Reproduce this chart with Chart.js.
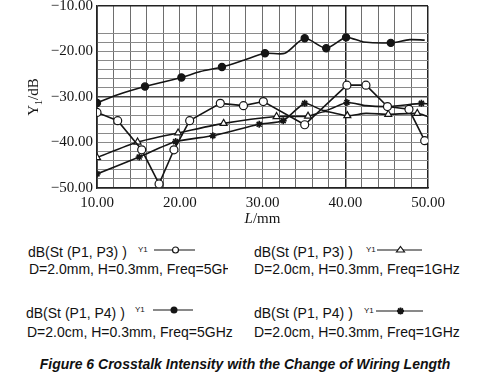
<!DOCTYPE html>
<html>
<head>
<meta charset="utf-8">
<script src="https://cdn.jsdelivr.net/npm/chart.js@4"></script>
<style>
  body { margin: 0; width: 482px; height: 374px; background: #fff; position: relative; overflow: hidden;
         font-family: "Liberation Sans", Arial, sans-serif; color: #111; }
  #wrap { position: absolute; left: 0; top: 0; width: 482px; height: 232px; }
  .lg { position: absolute; font-size: 14px; line-height: 16px; white-space: nowrap; overflow: hidden; }
  .y1 { position: absolute; font-size: 8px; line-height: 10px; }
  svg.sym { position: absolute; overflow: visible; }
  .cap { position: absolute; left: 0; width: 490px; top: 356px; text-align: center;
         font-weight: bold; font-style: italic; font-size: 14px; line-height: 16px; }
</style>
</head>
<body>
<div id="wrap"><canvas id="chart" width="482" height="232"></canvas></div>
<div id="legend"></div>
<div class="cap">Figure 6 Crosstalk Intensity with the Change of Wiring Length</div>
<script>
// L / mm  vs  Y1 / dB
// dB(St(P1,P3)) D=2.0mm, 5GHz  (open circle)
const openX = [10, 12.5, 15.4, 17.5, 19.3, 21.2, 24.9, 27.7, 30.1, 35.1, 40.2, 42.5, 45.1, 47.7, 49.6, 50];
const openY = [-33.4, -35.2, -41.6, -49.1, -41.6, -35.2, -31.4, -31.9, -31.0, -36.1, -27.4, -27.4, -32.1, -32.7, -39.6, -40.5];
const openMark = [1, 1, 1, 1, 1, 1, 1, 1, 1, 1, 1, 1, 1, 1, 1, 0];

// dB(St(P1,P4)) D=2.0cm, 5GHz  (filled circle)
const fillX = [10, 12.5, 15.8, 20.2, 22.5, 25.1, 27.6, 30.3, 32.7, 35.1, 37.7, 40.1, 42.2, 45.5, 47.8, 49.6];
const fillY = [-31.3, -29.5, -27.7, -25.7, -24.4, -23.4, -22.0, -20.4, -20.4, -17.1, -19.3, -16.9, -17.9, -18.1, -17.4, -17.5];
const fillMark = [1, 0, 1, 1, 0, 1, 0, 1, 0, 1, 1, 1, 0, 1, 0, 0];

// dB(St(P1,P3)) D=2.0cm, 1GHz  (triangle)
const triX = [10, 14.9, 19.8, 25.3, 31.7, 35.5, 37.6, 40.25, 42.5, 45.2, 48.7, 50];
const triY = [-43.3, -39.9, -37.9, -35.8, -34.3, -34.2, -33.2, -34.1, -33.6, -33.8, -33.6, -34.3];
const triMark = [1, 1, 1, 1, 1, 1, 0, 1, 0, 1, 1, 0];

// dB(St(P1,P4)) D=2.0cm, 1GHz  (asterisk)
const starX = [10, 15.1, 19.5, 24.0, 29.6, 32.5, 35.1, 37.5, 40.2, 42.5, 45.2, 49.2, 50];
const starY = [-46.9, -43.2, -39.8, -38.5, -36.0, -35.2, -31.4, -33.0, -31.2, -31.9, -32.1, -31.4, -31.5];
const starMark = [1, 1, 1, 1, 1, 1, 1, 0, 1, 0, 1, 1, 0];

const seriesNames = ['dB(St (P1, P3) )', 'dB(St (P1, P3) )', 'dB(St (P1, P4) )', 'dB(St (P1, P4) )'];
const seriesNotes = ['D=2.0mm, H=0.3mm, Freq=5GHz', 'D=2.0cm, H=0.3mm, Freq=1GHz',
                     'D=2.0cm, H=0.3mm, Freq=5GHz', 'D=2.0cm, H=0.3mm, Freq=1GHz'];
const seriesMarkers = ['open', 'triangle', 'filled', 'star'];

const xMin = 10, xMax = 50, yMin = -50, yMax = -10;

const pts = (xs, ys) => xs.map((x, i) => ({ x: x, y: ys[i] }));
const INK = '#151515';

function dataset(xs, ys, marks, style, fill, tension) {
  return {
    data: pts(xs, ys),
    showLine: true,
    borderColor: INK,
    borderWidth: 1.6,
    tension: tension,
    pointStyle: style,
    pointRadius: c => marks[c.dataIndex] ? (style === 'star' ? 3.5 : (fill === INK ? 3.6 : 4)) : 0,
    pointBackgroundColor: fill,
    pointBorderColor: INK,
    pointBorderWidth: style === 'star' ? 1.6 : 1.2
  };
}

// axis titles: italic L on x, Y with subscript 1 on y
const axisTitles = {
  id: 'axisTitles',
  afterDraw(chart) {
    const { ctx, chartArea } = chart;
    ctx.save();
    ctx.fillStyle = INK;
    ctx.textBaseline = 'middle';
    // x title
    const cx = (chartArea.left + chartArea.right) / 2;
    const ty = chartArea.bottom + 31;
    ctx.font = 'italic 15px "Liberation Serif", serif';
    const wL = ctx.measureText('L').width;
    ctx.font = '15px "Liberation Serif", serif';
    const wR = ctx.measureText('/mm').width;
    let x0 = cx - (wL + wR) / 2;
    ctx.textAlign = 'left';
    ctx.font = 'italic 15px "Liberation Serif", serif';
    ctx.fillText('L', x0, ty);
    ctx.font = '15px "Liberation Serif", serif';
    ctx.fillText('/mm', x0 + wL, ty);
    // y title
    ctx.translate(34, (chartArea.top + chartArea.bottom) / 2);
    ctx.rotate(-Math.PI / 2);
    ctx.font = '15px "Liberation Serif", serif';
    const wY = ctx.measureText('Y').width;
    ctx.font = '10px "Liberation Serif", serif';
    const w1 = ctx.measureText('1').width;
    ctx.font = '15px "Liberation Serif", serif';
    const wD = ctx.measureText('/dB').width;
    let s = -(wY + w1 + wD) / 2;
    ctx.fillText('Y', s, 0);
    ctx.font = '10px "Liberation Serif", serif';
    ctx.fillText('1', s + wY, 5);
    ctx.font = '15px "Liberation Serif", serif';
    ctx.fillText('/dB', s + wY + w1, 0);
    ctx.restore();
  }
};

const fmt = v => (v < 0 ? '\u2212' : '') + Math.abs(v).toFixed(2);

new Chart(document.getElementById('chart'), {
  type: 'scatter',
  data: {
    datasets: [
      dataset(openX, openY, openMark, 'circle', '#fff', 0),
      dataset(triX, triY, triMark, 'triangle', '#fff', 0.2),
      dataset(fillX, fillY, fillMark, 'circle', INK, 0.25),
      dataset(starX, starY, starMark, 'star', INK, 0.2)
    ]
  },
  options: {
    responsive: false,
    animation: false,
    events: [],
    layout: { padding: { left: 0, right: 54, top: 6, bottom: 0 } },
    plugins: { legend: { display: false }, tooltip: { enabled: false } },
    scales: {
      x: {
        type: 'linear',
        min: xMin,
        max: xMax,
        afterFit: s => { s.height = 44; s.paddingLeft = 0; s.paddingRight = 0; },
        border: { color: '#222', width: 1.5 },
        grid: {
          drawTicks: false,
          color: c => (c.tick.value === 40 || c.tick.value === 50) ? '#222' : '#6e6e6e',
          lineWidth: c => (c.tick.value === 40 || c.tick.value === 50) ? 1.5 : 1
        },
        ticks: {
          stepSize: 2,
          autoSkip: false,
          maxRotation: 0,
          padding: 6,
          color: INK,
          font: { family: '"Liberation Serif", serif', size: 15 },
          callback: v => v % 10 === 0 ? v.toFixed(2) : ''
        }
      },
      y: {
        min: yMin,
        max: yMax,
        afterFit: s => { s.width = 97; s.paddingTop = 0; s.paddingBottom = 0; },
        border: { color: '#222', width: 1.5 },
        grid: {
          drawTicks: false,
          color: c => {
            const v = c.tick.value;
            if (v === -10) return '#222';
            if (v > -16) return 'rgba(0,0,0,0)';
            if (v === -30) return '#444';
            return '#8a8a8a';
          },
          lineWidth: c => (c.tick.value === -10 || c.tick.value === -30) ? 1.5 : 1
        },
        ticks: {
          stepSize: 2,
          autoSkip: false,
          padding: 4,
          color: INK,
          font: { family: '"Liberation Serif", serif', size: 15 },
          callback: v => v % 10 === 0 ? fmt(v) : ''
        }
      }
    }
  },
  plugins: [axisTitles]
});

// legend below the plot
const legendPos = [
  { tx: 28, ty: 244, nx: 29, ny: 261, nw: 199, yx: 138, sx: 154, sw: 41, sy: 250 },
  { tx: 254, ty: 244, nx: 254, ny: 261, nw: 230, yx: 366, sx: 377, sw: 45, sy: 250 },
  { tx: 26, ty: 305, nx: 27, ny: 324, nw: 230, yx: 135, sx: 153, sw: 40, sy: 310 },
  { tx: 254, ty: 305, nx: 254, ny: 324, nw: 230, yx: 364, sx: 376, sw: 47, sy: 311 }
];

function symbol(kind, w) {
  const m = w / 2 + 1;
  let mk = '';
  if (kind === 'open') mk = `<circle cx="${m}" cy="5" r="3" fill="#fff" stroke="${INK}" stroke-width="1.2"/>`;
  if (kind === 'filled') mk = `<circle cx="${m}" cy="5" r="3.5" fill="${INK}"/>`;
  if (kind === 'triangle') mk = `<path d="M${m} 1.5 L${m + 4} 7 L${m - 4} 7 Z" fill="#fff" stroke="${INK}" stroke-width="1.2"/>`;
  if (kind === 'star') mk = `<path d="M${m - 3.5} 5 H${m + 3.5} M${m} 1.5 V8.5 M${m - 2.5} 2.5 L${m + 2.5} 7.5 M${m + 2.5} 2.5 L${m - 2.5} 7.5" stroke="${INK}" stroke-width="1.8"/>`;
  return `<line x1="0" y1="5" x2="${w}" y2="5" stroke="${INK}" stroke-width="1.2"/>` + mk;
}

const legend = document.getElementById('legend');
seriesNames.forEach((name, i) => {
  const p = legendPos[i];
  legend.insertAdjacentHTML('beforeend',
    `<div class="lg" style="left:${p.tx}px;top:${p.ty}px">${name}</div>` +
    `<div class="lg" style="left:${p.nx}px;top:${p.ny}px;width:${p.nw}px">${seriesNotes[i]}</div>` +
    `<div class="y1" style="left:${p.yx}px;top:${p.sy - 5}px">Y1</div>` +
    `<svg class="sym" width="${p.sw}" height="10" style="left:${p.sx}px;top:${p.sy - 5}px">${symbol(seriesMarkers[i], p.sw)}</svg>`);
});
</script>
</body>
</html>
